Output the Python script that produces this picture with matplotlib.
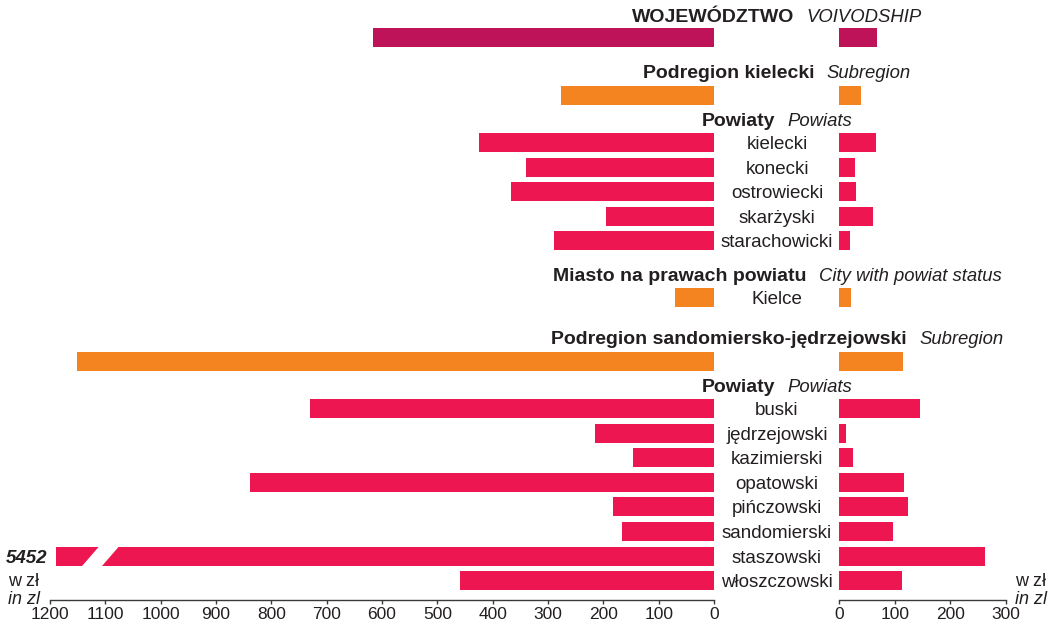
import matplotlib
matplotlib.use('Agg')
import matplotlib.pyplot as plt
from matplotlib import transforms
from matplotlib.offsetbox import TextArea, HPacker, AnnotationBbox

plt.rcParams['font.family'] = ['Liberation Sans', 'DejaVu Sans']

# dane
voiv_head = ('WOJEWÓDZTWO', 'VOIVODSHIP')
voiv_left = 616
voiv_right = 68

sub1_head = ('Podregion kielecki', 'Subregion')
sub1_left = 277
sub1_right = 40

powiaty_head = ('Powiaty', 'Powiats')
powiaty1 = ['kielecki', 'konecki', 'ostrowiecki', 'skarżyski', 'starachowicki']
powiaty1_left = [425, 340, 366, 196, 290]
powiaty1_right = [67, 29, 31, 61, 20]

city_head = ('Miasto na prawach powiatu', 'City with powiat status')
city = 'Kielce'
city_left = 70
city_right = 21

sub2_head = ('Podregion sandomiersko-jędrzejowski', 'Subregion')
sub2_left = 1151
sub2_right = 115

powiaty2 = ['buski', 'jędrzejowski', 'kazimierski', 'opatowski', 'pińczowski',
            'sandomierski', 'staszowski', 'włoszczowski']
powiaty2_left = [730, 215, 147, 839, 183, 166, 5452, 459]
powiaty2_right = [146, 13, 25, 117, 124, 97, 263, 113]

left_ticks = list(range(0, 1201, 100))
right_ticks = [0, 100, 200, 300]

# kolory
C_VOIV = '#BE1358'
C_SUB = '#F4841F'
C_POW = '#EE1651'
C_TXT = '#231F20'

CAP = 1190  # długość słupka z przerwą

# układ wierszy (jednostki ~ piksele od góry)
rows = []
y = 17.0


def add_head(h):
    rows.append(('head', y, h))


def add_bar(label, lv, rv, color):
    rows.append(('bar', y, label, lv, rv, color))


add_head(voiv_head); y += 20.5
add_bar('', voiv_left, voiv_right, C_VOIV); y += 36
add_head(sub1_head); y += 21.5
add_bar('', sub1_left, sub1_right, C_SUB); y += 26
add_head(powiaty_head); y += 21.5
for i, name in enumerate(powiaty1):
    add_bar(name, powiaty1_left[i], powiaty1_right[i], C_POW)
    y += 24.6
y += 11
add_head(city_head); y += 21
add_bar(city, city_left, city_right, C_SUB); y += 42
add_head(sub2_head); y += 22
add_bar('', sub2_left, sub2_right, C_SUB); y += 26
add_head(powiaty_head); y += 21
for i, name in enumerate(powiaty2):
    add_bar(name, powiaty2_left[i], powiaty2_right[i], C_POW)
    y += 24.6

W, H = 1048, 624
fig = plt.figure(figsize=(W / 100, H / 100), dpi=100)
ax_l = fig.add_axes([50 / W, 24 / H, 664 / W, 600 / H])
ax_r = fig.add_axes([839 / W, 24 / H, 167 / W, 600 / H])

for ax in (ax_l, ax_r):
    ax.set_ylim(600, 0)
    for s in ('top', 'left', 'right'):
        ax.spines[s].set_visible(False)
    ax.spines['bottom'].set_color('#3a3a3a')
    ax.spines['bottom'].set_linewidth(1)
    ax.set_yticks([])
    ax.tick_params(axis='x', direction='out', length=3, width=1, color='#3a3a3a',
                   labelsize=12.5, labelcolor=C_TXT, pad=2)
    ax.patch.set_visible(False)

ax_l.set_xlim(1200, 0)
ax_l.set_xticks(left_ticks)
ax_r.set_xlim(0, 300)
ax_r.set_xticks(right_ticks)

mid = transforms.blended_transform_factory(fig.transFigure, ax_l.transData)
left_edge = transforms.blended_transform_factory(ax_l.transAxes, ax_l.transData)
xmid = 777 / W
BAR_H = 19

for r in rows:
    if r[0] == 'head':
        _, yy, (bold, ital) = r
        t1 = TextArea(bold, textprops=dict(fontsize=14, fontweight='bold', color=C_TXT))
        t2 = TextArea(ital, textprops=dict(fontsize=13.3, fontstyle='italic', color=C_TXT))
        pack = HPacker(children=[t1, t2], align='baseline', pad=0, sep=9)
        ab = AnnotationBbox(pack, (xmid, yy), xycoords=mid, box_alignment=(0.5, 0.5),
                            frameon=False, pad=0, annotation_clip=False)
        ax_l.add_artist(ab)
    else:
        _, yy, label, lv, rv, color = r
        broken = lv > CAP
        ax_l.barh(yy, min(lv, CAP), height=BAR_H, color=color, linewidth=0)
        ax_r.barh(yy, rv, height=BAR_H, color=color, linewidth=0)
        if label:
            fig.text(xmid, yy, label, transform=mid, ha='center', va='center_baseline',
                     fontsize=13.5, color=C_TXT)
        if broken:
            # przerwa w słupku
            top, bot = yy - BAR_H / 2 - 1, yy + BAR_H / 2 + 1
            ax_l.fill([CAP - 47, CAP - 83, CAP - 116, CAP - 80], [bot, bot, top, top],
                      color='white', linewidth=0, zorder=3)
            ax_l.text(-0.004, yy, f'{lv}', transform=left_edge, ha='right',
                      va='center_baseline', fontsize=13.5, fontweight='bold',
                      fontstyle='italic', color=C_TXT)

# jednostki
fig.text(8 / W, 1 - 582 / H, 'w zł', ha='left', va='center', fontsize=13, color=C_TXT)
fig.text(8 / W, 1 - 600 / H, 'in zl', ha='left', va='center', fontsize=13,
         fontstyle='italic', color=C_TXT)
fig.text(1015 / W, 1 - 582 / H, 'w zł', ha='left', va='center', fontsize=13, color=C_TXT)
fig.text(1015 / W, 1 - 600 / H, 'in zl', ha='left', va='center', fontsize=13,
         fontstyle='italic', color=C_TXT)

fig.savefig('out.png', dpi=100)
